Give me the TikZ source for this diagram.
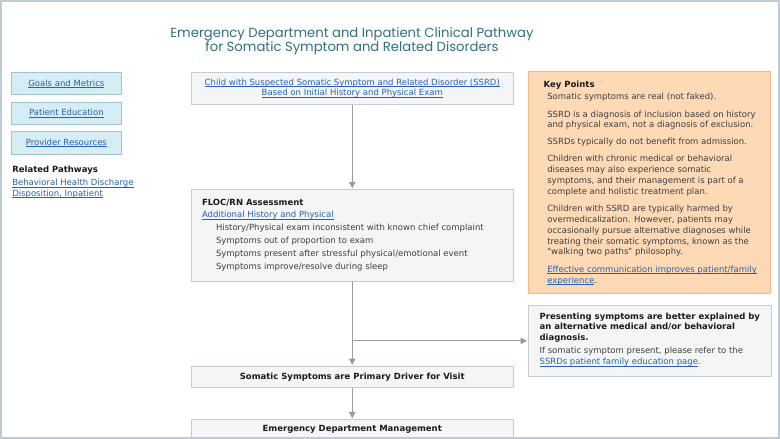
\documentclass[tikz,border=0pt]{standalone}
\usepackage{fontspec}
\setmainfont{DejaVu Sans}[Ligatures=TeXOff]
\newfontfamily\titlefont{Poppins}
\usetikzlibrary{arrows.meta}
\definecolor{framecol}{HTML}{BFCDD3}
\definecolor{titlecol}{HTML}{2E7180}
\definecolor{btnfill}{HTML}{D7EDF4}
\definecolor{btnborder}{HTML}{9FC3D1}
\definecolor{boxfill}{HTML}{F3F5F6}
\definecolor{boxborder}{HTML}{C4CDD2}
\definecolor{keyfill}{HTML}{FDD9B6}
\definecolor{keyborder}{HTML}{F4B884}
\definecolor{linkblue}{HTML}{2462B4}
\definecolor{bodytext}{HTML}{3E3E3E}
\definecolor{headtext}{HTML}{1B1B1B}
\definecolor{arrowgrey}{HTML}{9B9B9B}
\newcommand\mylink[1]{{\color{linkblue}\setbox0\hbox{#1}\rlap{\vrule height -1.1pt depth 1.8pt width \wd0}\box0}}
\begin{document}
\begin{tikzpicture}[x=1pt,y=-1pt,
  every node/.style={inner sep=0pt, outer sep=0pt},
  btn/.style={draw=btnborder, fill=btnfill, line width=1pt, minimum width=110.7pt, minimum height=22pt, anchor=north west, font=\fontsize{8.5}{10}\selectfont},
  flowbox/.style={draw=boxborder, fill=boxfill, line width=0.9pt, minimum width=322.5pt, anchor=north west},
  keybox/.style={draw=keyborder, fill=keyfill, line width=0.9pt, anchor=north west},
  headfont/.style={font=\bfseries\fontsize{8.5}{10}\selectfont, text=headtext},
  flowarrow/.style={draw=arrowgrey, line width=1.2pt, -{Triangle[width=6.5pt,length=6.5pt]}, shorten >=1pt},
 ]
\useasboundingbox (0,0) rectangle (780,439);
\fill[white] (0,0) rectangle (780,439);

% title
\node[anchor=north, align=center, font=\titlefont\fontsize{13.2}{12.7}\selectfont, text=titlecol] (title) at (352,26.3)
  {\rule{0pt}{11pt}Emergency Department and Inpatient Clinical Pathway\\for Somatic Symptom and Related Disorders};

% left column
\node[btn] (goals) at (11,72.7) {\mylink{Goals and Metrics}};
\node[btn] (pated) at (11,102.3) {\mylink{Patient Education}};
\node[btn, minimum height=22.3pt] (provres) at (11,131.7) {\mylink{Provider Resources}};
\node[anchor=base west, headfont] (relhead) at (12.3,172.7) {Related Pathways};
\node[anchor=north west, align=left, font=\fontsize{8.5}{10.8}\selectfont] (rellink) at (12.3,177.94)
  {\strut\mylink{Behavioral Health Discharge}\\\mylink{Disposition, Inpatient}};

% key points
\node[keybox, minimum width=242.4pt, minimum height=221.6pt] (key) at (528.3,71.7) {};
\node[anchor=base west, headfont] (keyhead) at (543.7,87.3) {Key Points};
\node[anchor=north west, align=left, font=\fontsize{8.5}{10.85}\selectfont, text=bodytext] (keytext) at (547.3,92.4)
  {\strut Somatic symptoms are real (not faked).\\[6.2pt]
   SSRD is a diagnosis of inclusion based on history\\
   and physical exam, not a diagnosis of exclusion.\\[6.2pt]
   SSRDs typically do not benefit from admission.\\[6.2pt]
   Children with chronic medical or behavioral\\
   diseases may also experience somatic\\
   symptoms, and their management is part of a\\
   complete and holistic treatment plan.\\[6.2pt]
   Children with SSRD are typically harmed by\\
   overmedicalization. However, patients may\\
   occasionally pursue alternative diagnoses while\\
   treating their somatic symptoms, known as the\\
   "walking two paths" philosophy.\\[6.4pt]
   \mylink{Effective communication improves patient/family}\\
   \mylink{experience}.};

% flow boxes
\node[flowbox, minimum height=32.7pt, align=center, font=\fontsize{8.5}{10.6}\selectfont] (start) at (191,72)
  {\mylink{Child with Suspected Somatic Symptom and Related Disorder (SSRD)}\\\mylink{Based on Initial History and Physical Exam}};

\node[flowbox, minimum height=91.7pt] (floc) at (191,189.3) {};
\node[anchor=north west, align=left, font=\fontsize{8.5}{12.86}\selectfont, text=bodytext] (floctext) at (202,196)
  {\strut\textcolor{headtext}{\bfseries FLOC/RN Assessment}\\
   \mylink{Additional History and Physical}\\
   \hspace*{14pt}History/Physical exam inconsistent with known chief complaint\\
   \hspace*{14pt}Symptoms out of proportion to exam\\
   \hspace*{14pt}Symptoms present after stressful physical/emotional event\\
   \hspace*{14pt}Symptoms improve/resolve during sleep};

\node[flowbox, minimum width=243pt, minimum height=71.7pt] (alt) at (528,305) {};
\node[anchor=north west, align=left, font=\fontsize{8.5}{10.7}\selectfont, text=bodytext] (alttext) at (539.6,311.8)
  {\strut\textcolor{headtext}{\bfseries Presenting symptoms are better explained by}\\
   \textcolor{headtext}{\bfseries an alternative medical and/or behavioral}\\
   \textcolor{headtext}{\bfseries diagnosis.}\\[2.6pt]
   If somatic symptom present, please refer to the\\
   \mylink{SSRDs patient family education page}.};

\node[flowbox, minimum height=21.7pt, headfont] (primary) at (191,366) {Somatic Symptoms are Primary Driver for Visit};
\node[flowbox, minimum height=21pt, headfont] (edmgmt) at (191,419.3) {Emergency Department Management};

% connectors
\draw[flowarrow] (start.south) -- (floc.north);
\draw[flowarrow] (floc.south) -- (primary.north);
\draw[flowarrow] (floc.south |- alt.west) -- (alt.west);
\draw[flowarrow] (primary.south) -- (edmgmt.north);

% frame
\draw[framecol, line width=1.5pt] (0.75,0.75) rectangle (778.8,438.2);
\end{tikzpicture}
\end{document}
